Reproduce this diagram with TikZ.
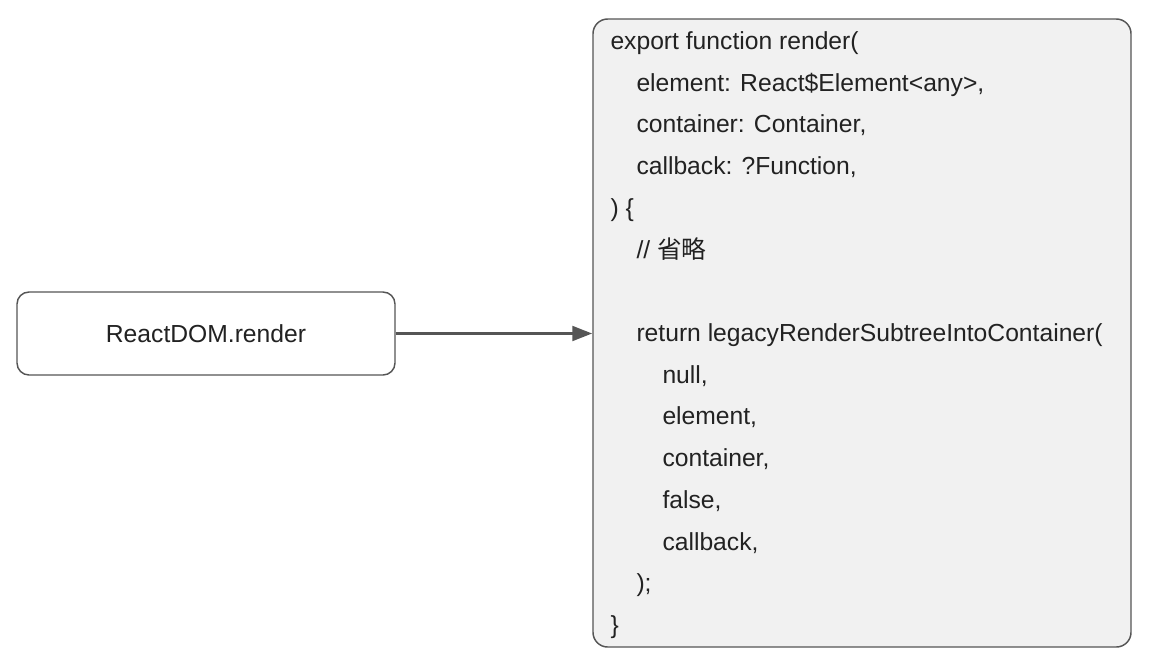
\documentclass[tikz,border=0pt]{standalone}
\usepackage{fontspec}
\setmainfont{Liberation Sans}
\newfontfamily\cjk{Noto Sans CJK SC}
\usetikzlibrary{arrows.meta}

\definecolor{boxline}{RGB}{85,85,85}
\definecolor{codefill}{RGB}{241,241,241}
\definecolor{inktext}{RGB}{34,34,34}

\tikzset{every picture/.style={line width=0.75pt}}
\tikzset{
  callbox/.style={draw=boxline, line width=1.1pt, rounded corners=9pt, fill=white,
    minimum width=283.5pt, minimum height=62.25pt, text=inktext, inner sep=0pt},
  codebox/.style={draw=boxline, line width=1.1pt, rounded corners=11pt, fill=codefill,
    minimum width=403.5pt, minimum height=471pt, inner sep=0pt},
  codeline/.style={anchor=base west, inner sep=0pt, text=inktext},
  callarrow/.style={draw=boxline, line width=2.3pt, -{Triangle[length=15pt,width=11pt]}}
}

\begin{document}
\begin{tikzpicture}[x=0.75pt,y=0.75pt,yscale=-1,font=\fontsize{18.5pt}{22pt}\selectfont]
\useasboundingbox (0,0) rectangle (1150,668);

% Call node
\node [callbox] (render) at (206,333.5) {ReactDOM.render};
% Code node
\node [codebox] (code) at (862,333) {};

% Text Node
\node [codeline] (l1) at (610,49) {export function render(};
% Text Node
\node [codeline] (l2) at (636,91) {element: React\$Element<any>,};
% Text Node
\node [codeline] (l3) at (636,132.5) {container: Container,};
% Text Node
\node [codeline] (l4) at (636,174) {callback: ?Function,};
% Text Node
\node [codeline] (l5) at (610,216) {) \{};
% Text Node
\node [codeline] (l6) at (636,258) {// {\cjk 省略}};
% Text Node
\node [codeline] (l8) at (636,341) {return legacyRenderSubtreeIntoContainer(};
% Text Node
\node [codeline] (l9) at (662,383) {null,};
% Text Node
\node [codeline] (l10) at (662,424.5) {element,};
% Text Node
\node [codeline] (l11) at (662,466) {container,};
% Text Node
\node [codeline] (l12) at (662,508) {false,};
% Text Node
\node [codeline] (l13) at (662,550) {callback,};
% Text Node
\node [codeline] (l14) at (636,591) {);};
% Text Node
\node [codeline] (l15) at (610,633) {\}};

%Straight Lines
\draw [callarrow] (render.east) -- (render.east -| code.west);

\end{tikzpicture}
\end{document}
